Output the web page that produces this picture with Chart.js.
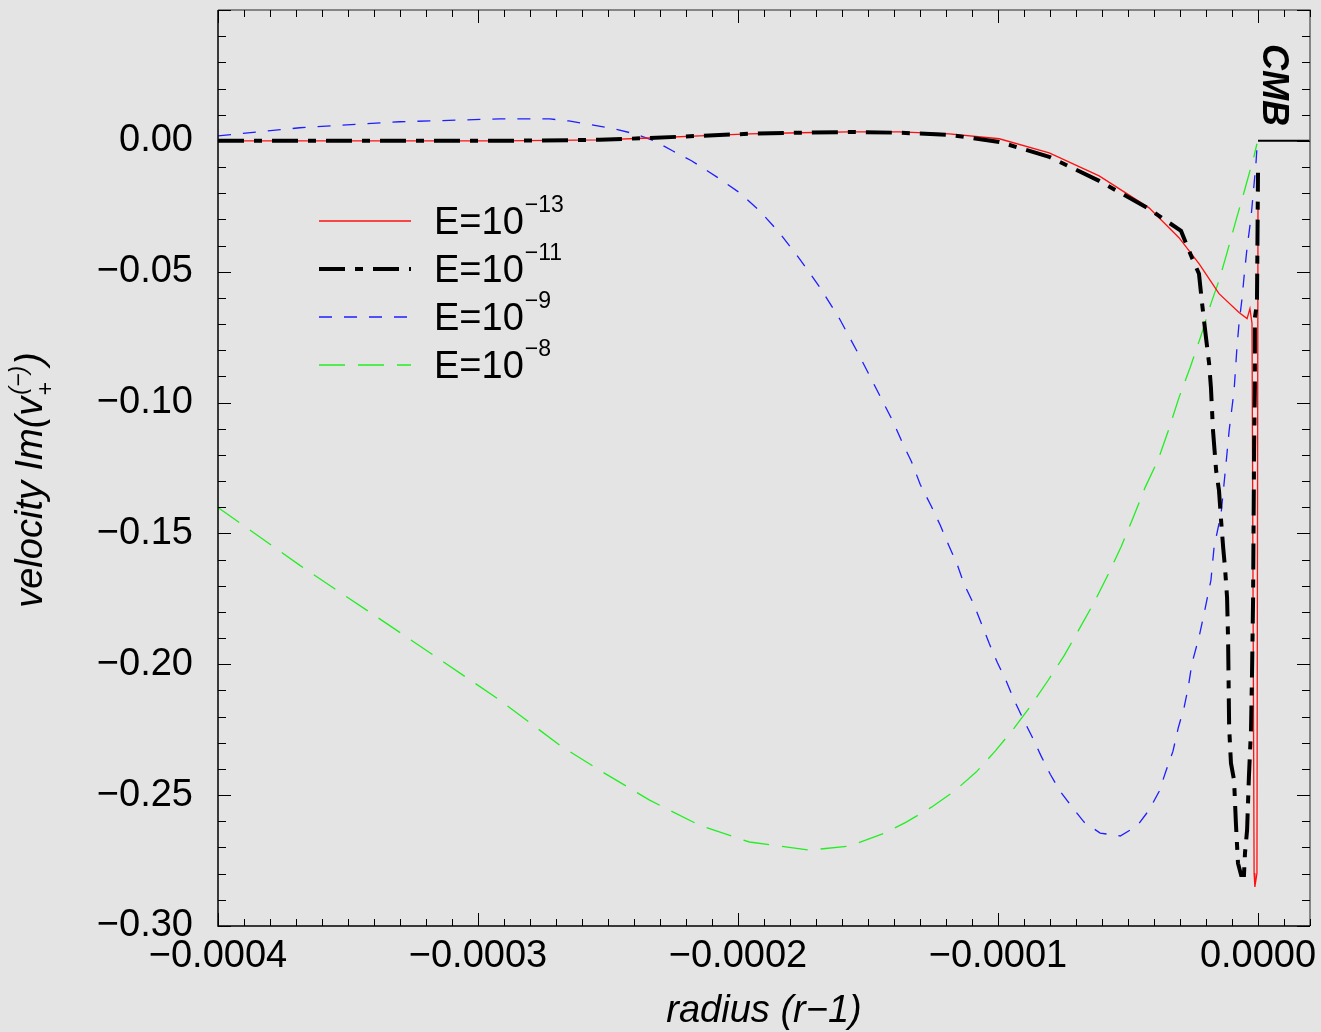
<!DOCTYPE html>
<html>
<head>
<meta charset="utf-8">
<script src="https://cdn.jsdelivr.net/npm/chart.js@4.4.1/dist/chart.umd.min.js"></script>
<style>
  html, body { margin: 0; padding: 0; background: #e4e4e4; }
  canvas { display: block; }
</style>
</head>
<body>
<canvas id="velocity" width="1321" height="1032"></canvas>
<script>
// radius (r-1) in units of 1e-6, velocity Im(v+(-))
const redR = [-400, -330.1, -291.6, -253.2, -234.0, -214.8, -195.6, -176.4, -157.2, -137.9, -118.7, -99.5, -80.3, -61.1, -41.9, -30.4, -22.7, -15.0, -7.3, -4.2, -3.1, -2.3, -1.5, -1.2, -0.4, 0];
const redV = [0, 0, 0, 0.0004, 0.0011, 0.0019, 0.0027, 0.0031, 0.0034, 0.0034, 0.0027, 0.0008, -0.0046, -0.0134, -0.0256, -0.0370, -0.0469, -0.0584, -0.0656, -0.0679, -0.0641, -0.0698, -0.2798, -0.2851, -0.2798, -0.0237];

const blackR = [-400, -291.6, -253.2, -234.0, -214.8, -195.6, -176.4, -157.2, -137.9, -118.7, -99.5, -80.3, -61.1, -41.9, -34.2, -29.6, -25.4, -22.7, -21.5, -20.0, -18.8, -18.1, -17.3, -16.1, -15.0, -14.2, -13.4, -12.7, -11.9, -11.5, -11.1, -10.4, -9.2, -8.5, -7.7, -6.5, -5.4, -5.0, -4.2, -3.5, -2.7, -2.3, -1.9, -1.5, -1.2, -1.2, -0.4, 0];
const blackV = [0, 0, 0.0004, 0.0011, 0.0019, 0.0027, 0.0031, 0.0034, 0.0031, 0.0023, -0.0004, -0.0061, -0.0153, -0.0260, -0.0313, -0.0344, -0.0447, -0.0508, -0.0622, -0.0752, -0.0851, -0.0943, -0.1107, -0.1260, -0.1336, -0.1450, -0.1553, -0.1630, -0.1744, -0.1908, -0.2240, -0.2378, -0.2443, -0.2607, -0.2760, -0.2805, -0.2805, -0.2721, -0.2634, -0.2431, -0.2252, -0.2034, -0.1756, -0.1183, -0.0943, -0.0676, -0.0622, -0.0122];

const blueR = [-400, -368.5, -330.1, -291.6, -272.4, -265.1, -256.3, -247.8, -239.8, -232.1, -225.2, -217.9, -211.7, -207.1, -199.4, -191.7, -184.1, -176.4, -168.7, -161.0, -153.3, -143.7, -140.2, -136.8, -133.3, -129.9, -125.6, -122.2, -119.1, -115.7, -113.0, -109.5, -106.4, -103.4, -100.3, -96.8, -93.8, -90.3, -86.8, -83.4, -79.9, -76.1, -71.5, -66.9, -60.7, -53.0, -46.5, -41.9, -38.0, -35.4, -32.7, -30.7, -28.4, -26.9, -25.4, -22.7, -20.7, -18.1, -16.9, -14.2, -12.3, -11.1, -9.2, -8.1, -7.3, -6.1, -5.4, -4.2, -2.7, -0.8, -0.4];
const blueV = [0.0019, 0.0050, 0.0073, 0.0084, 0.0084, 0.0076, 0.0061, 0.0046, 0.0027, 0, -0.0038, -0.0076, -0.0115, -0.0145, -0.0198, -0.0267, -0.0351, -0.0450, -0.0557, -0.0679, -0.0821, -0.1008, -0.1076, -0.1153, -0.1225, -0.1313, -0.1397, -0.1469, -0.1542, -0.1618, -0.1695, -0.1767, -0.1844, -0.1920, -0.1992, -0.2065, -0.2137, -0.2210, -0.2279, -0.2351, -0.2420, -0.2485, -0.2546, -0.2603, -0.2645, -0.2656, -0.2618, -0.2557, -0.2485, -0.2408, -0.2332, -0.2244, -0.2164, -0.2092, -0.1996, -0.1897, -0.1805, -0.1679, -0.1553, -0.1424, -0.1233, -0.1107, -0.0954, -0.0790, -0.0698, -0.0599, -0.0523, -0.0408, -0.0294, -0.0088, -0.0027];

const greenR = [-400, -368.5, -330.1, -291.6, -268.6, -253.2, -234.0, -214.8, -195.6, -172.5, -157.2, -143.7, -135.3, -125.6, -116.8, -108.4, -101.1, -93.8, -87.2, -80.7, -74.5, -68.4, -63.0, -57.6, -52.6, -48.0, -43.4, -38.4, -34.2, -30.4, -26.1, -21.9, -18.1, -15.0, -11.9, -8.5, -5.0, -1.5, -0.4];
const greenV = [-0.1401, -0.1622, -0.1878, -0.2137, -0.2309, -0.2405, -0.2519, -0.2615, -0.2679, -0.2710, -0.2695, -0.2645, -0.2603, -0.2546, -0.2485, -0.2412, -0.2332, -0.2244, -0.2156, -0.2061, -0.1966, -0.1859, -0.1763, -0.1656, -0.1550, -0.1439, -0.1324, -0.1218, -0.1099, -0.0981, -0.0866, -0.0744, -0.0622, -0.0534, -0.0427, -0.0305, -0.0183, -0.0057, -0.0011];

// CMB boundary marker
const cmbR = [0, 20];
const cmbV = [0, 0];

const xTickValues = [-0.0004, -0.0003, -0.0002, -0.0001, 0];
const xTickLabels = ['\u22120.0004', '\u22120.0003', '\u22120.0002', '\u22120.0001', '0.0000'];
const yTickValues = [0, -0.05, -0.10, -0.15, -0.20, -0.25, -0.30];
const yTickLabels = ['0.00', '\u22120.05', '\u22120.10', '\u22120.15', '\u22120.20', '\u22120.25', '\u22120.30'];

const legendLabels = ['E=10', 'E=10', 'E=10', 'E=10'];
const legendExps = ['\u221213', '\u221211', '\u22129', '\u22128'];

const FONT = "'Liberation Sans', Arial, Helvetica, sans-serif";

function pts(rs, vs) {
    return rs.map((r, i) => ({ x: r * 1e-6, y: vs[i] }));
}

const decor = {
    id: 'decor',
    afterDraw(chart) {
        const ctx = chart.ctx;
        const a = chart.chartArea;
        const xs = chart.scales.x, ys = chart.scales.y;
        ctx.save();

        // frame
        ctx.lineWidth = 1.5;
        ctx.strokeStyle = '#666';
        ctx.beginPath();
        ctx.moveTo(a.left, a.top); ctx.lineTo(a.right, a.top); ctx.lineTo(a.right, a.bottom);
        ctx.stroke();
        ctx.strokeStyle = '#000';
        ctx.beginPath();
        ctx.moveTo(a.left, a.top); ctx.lineTo(a.left, a.bottom); ctx.lineTo(a.right, a.bottom);
        ctx.stroke();

        // inward ticks on all sides
        ctx.lineWidth = 1;
        for (let k = -40; k <= 2; k++) {
            const px = Math.round(xs.getPixelForValue(k * 1e-5)) + 0.5;
            const len = k % 10 === 0 ? 13 : 7;
            ctx.beginPath();
            ctx.moveTo(px, a.bottom); ctx.lineTo(px, a.bottom - len);
            ctx.moveTo(px, a.top); ctx.lineTo(px, a.top + len);
            ctx.stroke();
        }
        for (let k = -30; k <= 5; k++) {
            const py = Math.round(ys.getPixelForValue(k * 0.01)) + 0.5;
            const len = k % 5 === 0 ? 13 : 8;
            ctx.beginPath();
            ctx.moveTo(a.left, py); ctx.lineTo(a.left + len, py);
            ctx.moveTo(a.right, py); ctx.lineTo(a.right - len, py);
            ctx.stroke();
        }

        ctx.fillStyle = '#000';
        ctx.textBaseline = 'alphabetic';

        // legend
        const rows = [221, 269, 317, 365];
        chart.data.datasets.slice(0, 4).forEach((ds, i) => {
            const y = rows[i];
            ctx.save();
            ctx.strokeStyle = ds.borderColor;
            ctx.lineWidth = ds.borderWidth;
            ctx.setLineDash(ds.borderDash || []);
            ctx.beginPath();
            ctx.moveTo(319, y); ctx.lineTo(411, y);
            ctx.stroke();
            ctx.restore();
            ctx.font = '38px ' + FONT;
            ctx.textAlign = 'left';
            ctx.fillText(legendLabels[i], 434, y + 13);
            const w = ctx.measureText(legendLabels[i]).width;
            ctx.font = '23px ' + FONT;
            ctx.fillText(legendExps[i], 434 + w + 1, y - 9);
        });

        // CMB label
        ctx.save();
        ctx.translate(1263, 44);
        ctx.rotate(Math.PI / 2);
        ctx.font = 'italic bold 36px ' + FONT;
        ctx.textAlign = 'left';
        ctx.fillText('CMB', 0, 0);
        ctx.restore();

        // x title
        ctx.font = 'italic 38px ' + FONT;
        ctx.textAlign = 'center';
        ctx.fillText('radius (r\u22121)', (a.left + a.right) / 2, 1022);

        // y title with sub/superscript
        ctx.save();
        ctx.translate(42, 480);
        ctx.rotate(-Math.PI / 2);
        ctx.textAlign = 'left';
        const mainFont = 'italic 38px ' + FONT, smallFont = 'italic 23px ' + FONT;
        ctx.font = mainFont;
        const t1 = 'velocity Im(v', t2 = ')';
        const w1 = ctx.measureText(t1).width, w2 = ctx.measureText(t2).width;
        ctx.font = smallFont;
        const wsup = ctx.measureText('(\u2212)').width, wsub = ctx.measureText('+').width;
        const ws = Math.max(wsup, wsub) + 3;
        let x0 = -(w1 + ws + w2) / 2;
        ctx.font = mainFont;
        ctx.fillText(t1, x0, 0);
        ctx.font = smallFont;
        ctx.fillText('+', x0 + w1 + 1, 11);
        ctx.fillText('(\u2212)', x0 + w1 + 2, -16);
        ctx.font = mainFont;
        ctx.fillText(t2, x0 + w1 + ws, 0);
        ctx.restore();

        ctx.restore();
    }
};

new Chart(document.getElementById('velocity'), {
    type: 'line',
    data: {
        datasets: [{
            label: 'E=1e-13',
            data: pts(redR, redV),
            borderColor: '#ff1010',
            borderWidth: 1.3,
            order: 1
        }, {
            label: 'E=1e-11',
            data: pts(blackR, blackV),
            borderColor: '#000000',
            borderWidth: 4,
            borderDash: [26, 10, 8, 10],
            order: 0
        }, {
            label: 'E=1e-9',
            data: pts(blueR, blueV),
            borderColor: '#1e1eff',
            borderWidth: 1.3,
            borderDash: [13, 12],
            order: 2
        }, {
            label: 'E=1e-8',
            data: pts(greenR, greenV),
            borderColor: '#22ee22',
            borderWidth: 1.3,
            borderDash: [26, 13],
            order: 3
        }, {
            label: 'CMB',
            data: pts(cmbR, cmbV),
            borderColor: '#000000',
            borderWidth: 2,
            order: 0
        }]
    },
    options: {
        responsive: false,
        animation: false,
        devicePixelRatio: 1,
        elements: { point: { radius: 0 }, line: { tension: 0, fill: false } },
        layout: { padding: { top: 10, right: 11, left: 0, bottom: 0 } },
        plugins: { legend: { display: false }, tooltip: { enabled: false } },
        scales: {
            x: {
                type: 'linear',
                min: -0.0004,
                max: 0.00002,
                afterBuildTicks: s => { s.ticks = xTickValues.map(v => ({ value: v })); },
                afterFit: s => { s.height = 106; s.paddingLeft = 0; s.paddingRight = 0; },
                grid: { display: false, drawTicks: false },
                border: { display: false },
                ticks: {
                    callback: (v, i) => xTickLabels[i],
                    font: { family: FONT, size: 38 },
                    color: '#000',
                    padding: 8,
                    maxRotation: 0,
                    autoSkip: false
                }
            },
            y: {
                type: 'linear',
                min: -0.30,
                max: 0.05,
                afterBuildTicks: s => { s.ticks = yTickValues.map(v => ({ value: v })); },
                afterFit: s => { s.width = 218; s.paddingTop = 0; s.paddingBottom = 0; },
                grid: { display: false, drawTicks: false },
                border: { display: false },
                ticks: {
                    callback: (v, i) => yTickLabels[i],
                    font: { family: FONT, size: 38 },
                    color: '#000',
                    padding: 25,
                    autoSkip: false
                }
            }
        }
    },
    plugins: [decor]
});
</script>
</body>
</html>
